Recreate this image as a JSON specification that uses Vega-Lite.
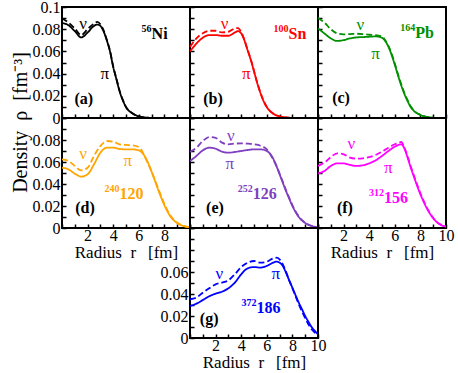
{
"$schema":"https://vega.github.io/schema/vega-lite/v6.json",
"autosize":{"type":"pad"},
"padding":{"left":9,"top":-2,"right":10,"bottom":0},
"background":"white",
"columns":3,"spacing":0,"bounds":"flush",
"datasets":{
"curves":[
{"p":"a","s":"pi","r":0,"v":0.0857},{"p":"a","s":"pi","r":0.5,"v":0.0836},{"p":"a","s":"pi","r":1,"v":0.0783},{"p":"a","s":"pi","r":1.5,"v":0.0726},{"p":"a","s":"pi","r":2,"v":0.077},{"p":"a","s":"pi","r":2.5,"v":0.083},{"p":"a","s":"pi","r":2.75,"v":0.0842},{"p":"a","s":"pi","r":3,"v":0.083},{"p":"a","s":"pi","r":3.25,"v":0.078},{"p":"a","s":"pi","r":3.5,"v":0.07},{"p":"a","s":"pi","r":3.75,"v":0.06},{"p":"a","s":"pi","r":4,"v":0.046},{"p":"a","s":"pi","r":4.25,"v":0.035},{"p":"a","s":"pi","r":4.5,"v":0.024},{"p":"a","s":"pi","r":4.75,"v":0.016},{"p":"a","s":"pi","r":5,"v":0.0098},{"p":"a","s":"pi","r":5.5,"v":0.0042},{"p":"a","s":"pi","r":6,"v":0.0015},{"p":"a","s":"pi","r":6.5,"v":0.0005},{"p":"a","s":"pi","r":7,"v":0.0001},
{"p":"a","s":"nu","r":0,"v":0.0896},{"p":"a","s":"nu","r":0.5,"v":0.086},{"p":"a","s":"nu","r":1,"v":0.0807},{"p":"a","s":"nu","r":1.5,"v":0.0747},{"p":"a","s":"nu","r":2,"v":0.08},{"p":"a","s":"nu","r":2.5,"v":0.085},{"p":"a","s":"nu","r":2.75,"v":0.0866},{"p":"a","s":"nu","r":3,"v":0.0845},{"p":"a","s":"nu","r":3.25,"v":0.079},{"p":"a","s":"nu","r":3.5,"v":0.0705},{"p":"a","s":"nu","r":3.75,"v":0.0605},{"p":"a","s":"nu","r":4,"v":0.0465},{"p":"a","s":"nu","r":4.25,"v":0.0355},{"p":"a","s":"nu","r":4.5,"v":0.0245},{"p":"a","s":"nu","r":4.75,"v":0.0163},{"p":"a","s":"nu","r":5,"v":0.01},{"p":"a","s":"nu","r":5.5,"v":0.0043},{"p":"a","s":"nu","r":6,"v":0.0015},{"p":"a","s":"nu","r":6.5,"v":0.0005},{"p":"a","s":"nu","r":7,"v":0.0001},
{"p":"b","s":"pi","r":0,"v":0.06},{"p":"b","s":"pi","r":0.5,"v":0.067},{"p":"b","s":"pi","r":1,"v":0.0723},{"p":"b","s":"pi","r":1.5,"v":0.0747},{"p":"b","s":"pi","r":2,"v":0.0747},{"p":"b","s":"pi","r":2.5,"v":0.0741},{"p":"b","s":"pi","r":3,"v":0.0741},{"p":"b","s":"pi","r":3.5,"v":0.077},{"p":"b","s":"pi","r":3.75,"v":0.0783},{"p":"b","s":"pi","r":4,"v":0.0762},{"p":"b","s":"pi","r":4.25,"v":0.07},{"p":"b","s":"pi","r":4.5,"v":0.061},{"p":"b","s":"pi","r":4.75,"v":0.0523},{"p":"b","s":"pi","r":5,"v":0.042},{"p":"b","s":"pi","r":5.25,"v":0.0315},{"p":"b","s":"pi","r":5.5,"v":0.0226},{"p":"b","s":"pi","r":5.75,"v":0.0152},{"p":"b","s":"pi","r":6,"v":0.0098},{"p":"b","s":"pi","r":6.5,"v":0.0039},{"p":"b","s":"pi","r":7,"v":0.0015},{"p":"b","s":"pi","r":7.5,"v":0.0005},{"p":"b","s":"pi","r":8,"v":0.0001},
{"p":"b","s":"nu","r":0,"v":0.064},{"p":"b","s":"nu","r":0.5,"v":0.0717},{"p":"b","s":"nu","r":1,"v":0.0764},{"p":"b","s":"nu","r":1.5,"v":0.0786},{"p":"b","s":"nu","r":2,"v":0.0786},{"p":"b","s":"nu","r":2.5,"v":0.0771},{"p":"b","s":"nu","r":3,"v":0.0777},{"p":"b","s":"nu","r":3.5,"v":0.0807},{"p":"b","s":"nu","r":3.75,"v":0.081},{"p":"b","s":"nu","r":4,"v":0.0775},{"p":"b","s":"nu","r":4.25,"v":0.0705},{"p":"b","s":"nu","r":4.5,"v":0.0615},{"p":"b","s":"nu","r":4.75,"v":0.053},{"p":"b","s":"nu","r":5,"v":0.0425},{"p":"b","s":"nu","r":5.25,"v":0.032},{"p":"b","s":"nu","r":5.5,"v":0.023},{"p":"b","s":"nu","r":5.75,"v":0.0155},{"p":"b","s":"nu","r":6,"v":0.01},{"p":"b","s":"nu","r":6.5,"v":0.004},{"p":"b","s":"nu","r":7,"v":0.0015},{"p":"b","s":"nu","r":7.5,"v":0.0005},{"p":"b","s":"nu","r":8,"v":0.0001},
{"p":"c","s":"pi","r":0,"v":0.0807},{"p":"c","s":"pi","r":0.5,"v":0.0762},{"p":"c","s":"pi","r":1,"v":0.0717},{"p":"c","s":"pi","r":1.5,"v":0.0694},{"p":"c","s":"pi","r":2,"v":0.0702},{"p":"c","s":"pi","r":2.5,"v":0.0717},{"p":"c","s":"pi","r":3,"v":0.0726},{"p":"c","s":"pi","r":3.5,"v":0.0729},{"p":"c","s":"pi","r":4,"v":0.0732},{"p":"c","s":"pi","r":4.5,"v":0.0735},{"p":"c","s":"pi","r":5,"v":0.0723},{"p":"c","s":"pi","r":5.25,"v":0.0694},{"p":"c","s":"pi","r":5.5,"v":0.0643},{"p":"c","s":"pi","r":5.75,"v":0.0569},{"p":"c","s":"pi","r":6,"v":0.048},{"p":"c","s":"pi","r":6.25,"v":0.0384},{"p":"c","s":"pi","r":6.5,"v":0.0295},{"p":"c","s":"pi","r":6.75,"v":0.0217},{"p":"c","s":"pi","r":7,"v":0.0152},{"p":"c","s":"pi","r":7.25,"v":0.0098},{"p":"c","s":"pi","r":7.5,"v":0.0063},{"p":"c","s":"pi","r":8,"v":0.0027},{"p":"c","s":"pi","r":8.5,"v":0.001},{"p":"c","s":"pi","r":9,"v":0.0003},
{"p":"c","s":"nu","r":0,"v":0.0902},{"p":"c","s":"nu","r":0.5,"v":0.086},{"p":"c","s":"nu","r":1,"v":0.08},{"p":"c","s":"nu","r":1.5,"v":0.0762},{"p":"c","s":"nu","r":2,"v":0.0753},{"p":"c","s":"nu","r":2.5,"v":0.0756},{"p":"c","s":"nu","r":3,"v":0.0759},{"p":"c","s":"nu","r":3.5,"v":0.0756},{"p":"c","s":"nu","r":4,"v":0.075},{"p":"c","s":"nu","r":4.5,"v":0.0747},{"p":"c","s":"nu","r":5,"v":0.0735},{"p":"c","s":"nu","r":5.25,"v":0.07},{"p":"c","s":"nu","r":5.5,"v":0.065},{"p":"c","s":"nu","r":5.75,"v":0.058},{"p":"c","s":"nu","r":6,"v":0.049},{"p":"c","s":"nu","r":6.25,"v":0.0395},{"p":"c","s":"nu","r":6.5,"v":0.0305},{"p":"c","s":"nu","r":6.75,"v":0.0225},{"p":"c","s":"nu","r":7,"v":0.016},{"p":"c","s":"nu","r":7.25,"v":0.0103},{"p":"c","s":"nu","r":7.5,"v":0.0066},{"p":"c","s":"nu","r":8,"v":0.0029},{"p":"c","s":"nu","r":8.5,"v":0.0011},{"p":"c","s":"nu","r":9,"v":0.0003},
{"p":"d","s":"pi","r":0,"v":0.0548},{"p":"d","s":"pi","r":0.5,"v":0.0533},{"p":"d","s":"pi","r":1,"v":0.0494},{"p":"d","s":"pi","r":1.5,"v":0.0467},{"p":"d","s":"pi","r":2,"v":0.0488},{"p":"d","s":"pi","r":2.5,"v":0.0579},{"p":"d","s":"pi","r":3,"v":0.0685},{"p":"d","s":"pi","r":3.5,"v":0.073},{"p":"d","s":"pi","r":4,"v":0.073},{"p":"d","s":"pi","r":4.5,"v":0.0718},{"p":"d","s":"pi","r":5,"v":0.0715},{"p":"d","s":"pi","r":5.5,"v":0.0715},{"p":"d","s":"pi","r":6,"v":0.0706},{"p":"d","s":"pi","r":6.25,"v":0.0685},{"p":"d","s":"pi","r":6.5,"v":0.0645},{"p":"d","s":"pi","r":6.75,"v":0.0585},{"p":"d","s":"pi","r":7,"v":0.0512},{"p":"d","s":"pi","r":7.25,"v":0.0434},{"p":"d","s":"pi","r":7.5,"v":0.0352},{"p":"d","s":"pi","r":7.75,"v":0.0276},{"p":"d","s":"pi","r":8,"v":0.0206},{"p":"d","s":"pi","r":8.25,"v":0.0148},{"p":"d","s":"pi","r":8.5,"v":0.01},{"p":"d","s":"pi","r":9,"v":0.0045},{"p":"d","s":"pi","r":9.5,"v":0.0018},{"p":"d","s":"pi","r":10,"v":0.0005},
{"p":"d","s":"nu","r":0,"v":0.0624},{"p":"d","s":"nu","r":0.5,"v":0.061},{"p":"d","s":"nu","r":1,"v":0.0564},{"p":"d","s":"nu","r":1.5,"v":0.0524},{"p":"d","s":"nu","r":2,"v":0.0548},{"p":"d","s":"nu","r":2.5,"v":0.0655},{"p":"d","s":"nu","r":3,"v":0.0745},{"p":"d","s":"nu","r":3.5,"v":0.0791},{"p":"d","s":"nu","r":4,"v":0.0785},{"p":"d","s":"nu","r":4.5,"v":0.0761},{"p":"d","s":"nu","r":5,"v":0.0755},{"p":"d","s":"nu","r":5.5,"v":0.0752},{"p":"d","s":"nu","r":6,"v":0.0736},{"p":"d","s":"nu","r":6.25,"v":0.07},{"p":"d","s":"nu","r":6.5,"v":0.064},{"p":"d","s":"nu","r":6.75,"v":0.0578},{"p":"d","s":"nu","r":7,"v":0.0515},{"p":"d","s":"nu","r":7.25,"v":0.0438},{"p":"d","s":"nu","r":7.5,"v":0.0365},{"p":"d","s":"nu","r":7.75,"v":0.029},{"p":"d","s":"nu","r":8,"v":0.0218},{"p":"d","s":"nu","r":8.25,"v":0.0158},{"p":"d","s":"nu","r":8.5,"v":0.0108},{"p":"d","s":"nu","r":9,"v":0.0049},{"p":"d","s":"nu","r":9.5,"v":0.002},{"p":"d","s":"nu","r":10,"v":0.0005},
{"p":"e","s":"pi","r":0,"v":0.0609},{"p":"e","s":"pi","r":0.5,"v":0.0655},{"p":"e","s":"pi","r":1,"v":0.0706},{"p":"e","s":"pi","r":1.5,"v":0.073},{"p":"e","s":"pi","r":2,"v":0.0721},{"p":"e","s":"pi","r":2.5,"v":0.0694},{"p":"e","s":"pi","r":3,"v":0.0685},{"p":"e","s":"pi","r":3.5,"v":0.0691},{"p":"e","s":"pi","r":4,"v":0.07},{"p":"e","s":"pi","r":4.5,"v":0.0709},{"p":"e","s":"pi","r":5,"v":0.0715},{"p":"e","s":"pi","r":5.5,"v":0.0715},{"p":"e","s":"pi","r":6,"v":0.07},{"p":"e","s":"pi","r":6.25,"v":0.0676},{"p":"e","s":"pi","r":6.5,"v":0.063},{"p":"e","s":"pi","r":6.75,"v":0.0564},{"p":"e","s":"pi","r":7,"v":0.0488},{"p":"e","s":"pi","r":7.25,"v":0.0412},{"p":"e","s":"pi","r":7.5,"v":0.0336},{"p":"e","s":"pi","r":7.75,"v":0.0267},{"p":"e","s":"pi","r":8,"v":0.02},{"p":"e","s":"pi","r":8.25,"v":0.0145},{"p":"e","s":"pi","r":8.5,"v":0.01},{"p":"e","s":"pi","r":9,"v":0.0045},{"p":"e","s":"pi","r":9.5,"v":0.0018},{"p":"e","s":"pi","r":10,"v":0.0005},
{"p":"e","s":"nu","r":0,"v":0.0694},{"p":"e","s":"nu","r":0.5,"v":0.073},{"p":"e","s":"nu","r":1,"v":0.0791},{"p":"e","s":"nu","r":1.5,"v":0.0827},{"p":"e","s":"nu","r":2,"v":0.082},{"p":"e","s":"nu","r":2.5,"v":0.0776},{"p":"e","s":"nu","r":3,"v":0.0761},{"p":"e","s":"nu","r":3.5,"v":0.0767},{"p":"e","s":"nu","r":4,"v":0.077},{"p":"e","s":"nu","r":4.5,"v":0.0767},{"p":"e","s":"nu","r":5,"v":0.0761},{"p":"e","s":"nu","r":5.5,"v":0.0748},{"p":"e","s":"nu","r":6,"v":0.0715},{"p":"e","s":"nu","r":6.25,"v":0.0676},{"p":"e","s":"nu","r":6.5,"v":0.0624},{"p":"e","s":"nu","r":6.75,"v":0.0566},{"p":"e","s":"nu","r":7,"v":0.0495},{"p":"e","s":"nu","r":7.25,"v":0.042},{"p":"e","s":"nu","r":7.5,"v":0.0345},{"p":"e","s":"nu","r":7.75,"v":0.0275},{"p":"e","s":"nu","r":8,"v":0.0208},{"p":"e","s":"nu","r":8.25,"v":0.015},{"p":"e","s":"nu","r":8.5,"v":0.0105},{"p":"e","s":"nu","r":9,"v":0.0048},{"p":"e","s":"nu","r":9.5,"v":0.002},{"p":"e","s":"nu","r":10,"v":0.0006},
{"p":"f","s":"pi","r":0,"v":0.0497},{"p":"f","s":"pi","r":0.5,"v":0.0518},{"p":"f","s":"pi","r":1,"v":0.0564},{"p":"f","s":"pi","r":1.5,"v":0.0588},{"p":"f","s":"pi","r":2,"v":0.0588},{"p":"f","s":"pi","r":2.5,"v":0.0573},{"p":"f","s":"pi","r":3,"v":0.0564},{"p":"f","s":"pi","r":3.5,"v":0.057},{"p":"f","s":"pi","r":4,"v":0.0588},{"p":"f","s":"pi","r":4.5,"v":0.0615},{"p":"f","s":"pi","r":5,"v":0.0655},{"p":"f","s":"pi","r":5.5,"v":0.07},{"p":"f","s":"pi","r":6,"v":0.0739},{"p":"f","s":"pi","r":6.5,"v":0.0761},{"p":"f","s":"pi","r":6.75,"v":0.0724},{"p":"f","s":"pi","r":7,"v":0.0639},{"p":"f","s":"pi","r":7.25,"v":0.0548},{"p":"f","s":"pi","r":7.5,"v":0.0464},{"p":"f","s":"pi","r":7.75,"v":0.0382},{"p":"f","s":"pi","r":8,"v":0.0306},{"p":"f","s":"pi","r":8.25,"v":0.024},{"p":"f","s":"pi","r":8.5,"v":0.0179},{"p":"f","s":"pi","r":8.75,"v":0.013},{"p":"f","s":"pi","r":9,"v":0.0088},{"p":"f","s":"pi","r":9.5,"v":0.0034},{"p":"f","s":"pi","r":10,"v":0.0012},
{"p":"f","s":"nu","r":0,"v":0.0564},{"p":"f","s":"nu","r":0.5,"v":0.0594},{"p":"f","s":"nu","r":1,"v":0.0645},{"p":"f","s":"nu","r":1.5,"v":0.0679},{"p":"f","s":"nu","r":2,"v":0.067},{"p":"f","s":"nu","r":2.5,"v":0.0639},{"p":"f","s":"nu","r":3,"v":0.063},{"p":"f","s":"nu","r":3.5,"v":0.0633},{"p":"f","s":"nu","r":4,"v":0.0645},{"p":"f","s":"nu","r":4.5,"v":0.0664},{"p":"f","s":"nu","r":5,"v":0.0694},{"p":"f","s":"nu","r":5.5,"v":0.073},{"p":"f","s":"nu","r":6,"v":0.0761},{"p":"f","s":"nu","r":6.5,"v":0.0782},{"p":"f","s":"nu","r":6.75,"v":0.073},{"p":"f","s":"nu","r":7,"v":0.0652},{"p":"f","s":"nu","r":7.25,"v":0.0558},{"p":"f","s":"nu","r":7.5,"v":0.0475},{"p":"f","s":"nu","r":7.75,"v":0.0393},{"p":"f","s":"nu","r":8,"v":0.0316},{"p":"f","s":"nu","r":8.25,"v":0.0248},{"p":"f","s":"nu","r":8.5,"v":0.0186},{"p":"f","s":"nu","r":8.75,"v":0.0136},{"p":"f","s":"nu","r":9,"v":0.0093},{"p":"f","s":"nu","r":9.5,"v":0.0036},{"p":"f","s":"nu","r":10,"v":0.0013},
{"p":"g","s":"pi","r":0,"v":0.0291},{"p":"g","s":"pi","r":0.5,"v":0.0312},{"p":"g","s":"pi","r":1,"v":0.0345},{"p":"g","s":"pi","r":1.5,"v":0.0379},{"p":"g","s":"pi","r":2,"v":0.0403},{"p":"g","s":"pi","r":2.5,"v":0.0421},{"p":"g","s":"pi","r":3,"v":0.0452},{"p":"g","s":"pi","r":3.5,"v":0.0503},{"p":"g","s":"pi","r":4,"v":0.0579},{"p":"g","s":"pi","r":4.5,"v":0.0633},{"p":"g","s":"pi","r":5,"v":0.0645},{"p":"g","s":"pi","r":5.5,"v":0.064},{"p":"g","s":"pi","r":6,"v":0.0655},{"p":"g","s":"pi","r":6.5,"v":0.0685},{"p":"g","s":"pi","r":6.75,"v":0.0694},{"p":"g","s":"pi","r":7,"v":0.0685},{"p":"g","s":"pi","r":7.25,"v":0.0655},{"p":"g","s":"pi","r":7.5,"v":0.0594},{"p":"g","s":"pi","r":7.75,"v":0.0524},{"p":"g","s":"pi","r":8,"v":0.0457},{"p":"g","s":"pi","r":8.25,"v":0.0388},{"p":"g","s":"pi","r":8.5,"v":0.0321},{"p":"g","s":"pi","r":8.75,"v":0.0261},{"p":"g","s":"pi","r":9,"v":0.02},{"p":"g","s":"pi","r":9.25,"v":0.0148},{"p":"g","s":"pi","r":9.5,"v":0.01},{"p":"g","s":"pi","r":9.75,"v":0.0064},{"p":"g","s":"pi","r":10,"v":0.0033},
{"p":"g","s":"nu","r":0,"v":0.0352},{"p":"g","s":"nu","r":0.5,"v":0.0367},{"p":"g","s":"nu","r":1,"v":0.0412},{"p":"g","s":"nu","r":1.5,"v":0.0452},{"p":"g","s":"nu","r":2,"v":0.0488},{"p":"g","s":"nu","r":2.5,"v":0.0503},{"p":"g","s":"nu","r":3,"v":0.0524},{"p":"g","s":"nu","r":3.5,"v":0.0579},{"p":"g","s":"nu","r":4,"v":0.0645},{"p":"g","s":"nu","r":4.5,"v":0.0685},{"p":"g","s":"nu","r":5,"v":0.07},{"p":"g","s":"nu","r":5.5,"v":0.0685},{"p":"g","s":"nu","r":6,"v":0.0694},{"p":"g","s":"nu","r":6.5,"v":0.0724},{"p":"g","s":"nu","r":6.75,"v":0.073},{"p":"g","s":"nu","r":7,"v":0.0715},{"p":"g","s":"nu","r":7.25,"v":0.067},{"p":"g","s":"nu","r":7.5,"v":0.0603},{"p":"g","s":"nu","r":7.75,"v":0.0524},{"p":"g","s":"nu","r":8,"v":0.0452},{"p":"g","s":"nu","r":8.25,"v":0.0379},{"p":"g","s":"nu","r":8.5,"v":0.0306},{"p":"g","s":"nu","r":8.75,"v":0.024},{"p":"g","s":"nu","r":9,"v":0.018},{"p":"g","s":"nu","r":9.25,"v":0.0124},{"p":"g","s":"nu","r":9.5,"v":0.0079},{"p":"g","s":"nu","r":9.75,"v":0.0048},{"p":"g","s":"nu","r":10,"v":0.0024}
],
"labels":[
{"p":"a","k":"tag","r":1.7,"v":0.017,"t":"(a)"},{"p":"a","k":"gr","r":1.65,"v":0.085,"t":"ν"},{"p":"a","k":"gr","r":3.35,"v":0.04,"t":"π"},{"p":"a","k":"sup","r":7.0,"v":0.071,"t":"56"},{"p":"a","k":"main","r":7.0,"v":0.071,"t":"Ni"},
{"p":"b","k":"tag","r":1.8,"v":0.017,"t":"(b)"},{"p":"b","k":"gr","r":2.7,"v":0.085,"t":"ν"},{"p":"b","k":"gr","r":4.4,"v":0.04,"t":"π"},{"p":"b","k":"sup","r":7.7,"v":0.071,"t":"100"},{"p":"b","k":"main","r":7.7,"v":0.071,"t":"Sn"},
{"p":"c","k":"tag","r":1.8,"v":0.018,"t":"(c)"},{"p":"c","k":"gr","r":3.3,"v":0.084,"t":"ν"},{"p":"c","k":"gr","r":4.5,"v":0.058,"t":"π"},{"p":"c","k":"sup","r":7.6,"v":0.072,"t":"164"},{"p":"c","k":"main","r":7.6,"v":0.072,"t":"Pb"},
{"p":"d","k":"tag","r":1.8,"v":0.018,"t":"(d)"},{"p":"d","k":"gr","r":1.65,"v":0.067,"t":"ν"},{"p":"d","k":"gr","r":5.15,"v":0.061,"t":"π"},{"p":"d","k":"sup","r":4.5,"v":0.026,"t":"240"},{"p":"d","k":"main","r":4.5,"v":0.026,"t":"120"},
{"p":"e","k":"tag","r":1.95,"v":0.018,"t":"(e)"},{"p":"e","k":"gr","r":3.2,"v":0.084,"t":"ν"},{"p":"e","k":"gr","r":3.1,"v":0.058,"t":"π"},{"p":"e","k":"sup","r":4.9,"v":0.026,"t":"252"},{"p":"e","k":"main","r":4.9,"v":0.026,"t":"126"},
{"p":"f","k":"tag","r":2.1,"v":0.018,"t":"(f)"},{"p":"f","k":"gr","r":2.6,"v":0.076,"t":"ν"},{"p":"f","k":"gr","r":5.5,"v":0.055,"t":"π"},{"p":"f","k":"sup","r":5.15,"v":0.023,"t":"312"},{"p":"f","k":"main","r":5.15,"v":0.023,"t":"156"},
{"p":"g","k":"tag","r":1.5,"v":0.017,"t":"(g)"},{"p":"g","k":"gr","r":2.3,"v":0.058,"t":"ν"},{"p":"g","k":"gr","r":6.7,"v":0.058,"t":"π"},{"p":"g","k":"sup","r":5.2,"v":0.023,"t":"372"},{"p":"g","k":"main","r":5.2,"v":0.023,"t":"186"}
]
},
"concat":[
{"width":128,"height":111,
 "encoding":{"x":{"field":"r","type":"quantitative","scale":{"domain":[0,10],"nice":false},"axis":{"values":[0,1,2,3,4,5,6,7,8,9,10],"labels":false,"title":null}},
  "y":{"field":"v","type":"quantitative","scale":{"domain":[0,0.1],"nice":false},"axis":{"values":[0,0.01,0.02,0.03,0.04,0.05,0.06,0.07,0.08,0.09,0.1],"labelExpr":"round(datum.value*100)%2==0?format(datum.value,'.2~f'):''","title":"Density\u2002ρ\u2002[fm⁻³]","titleX":-32,"titleY":115,"titleFontSize":20,"titleAlign":"center"}},
  "color":{"field":"p","type":"nominal","scale":{"domain":["a","b","c","d","e","f","g"],"range":["#000000","#ff0000","#009000","#ffa500","#7f3fbf","#ff00ff","#0000ff"]},"legend":null}},
 "layer":[
  {"data":{"name":"curves"},"transform":[{"filter":"datum.p=='a'"}],"mark":{"type":"line","strokeWidth":1.8,"interpolate":"monotone","clip":true},"encoding":{"strokeDash":{"field":"s","type":"nominal","scale":{"domain":["pi","nu"],"range":[[1,0],[6,3]]},"legend":null}}},
  {"data":{"name":"labels"},"transform":[{"filter":"datum.p=='a'&&datum.k=='tag'"}],"mark":{"type":"text","fontSize":16,"fontWeight":"bold"},"encoding":{"text":{"field":"t"},"color":{"value":"black"}}},
  {"data":{"name":"labels"},"transform":[{"filter":"datum.p=='a'&&datum.k=='gr'"}],"mark":{"type":"text","fontSize":17},"encoding":{"text":{"field":"t"}}},
  {"data":{"name":"labels"},"transform":[{"filter":"datum.p=='a'&&datum.k=='main'"}],"mark":{"type":"text","fontSize":16,"fontWeight":"bold","align":"left","baseline":"alphabetic"},"encoding":{"text":{"field":"t"}}},
  {"data":{"name":"labels"},"transform":[{"filter":"datum.p=='a'&&datum.k=='sup'"}],"mark":{"type":"text","fontSize":10,"fontWeight":"bold","align":"right","baseline":"alphabetic","dy":-7},"encoding":{"text":{"field":"t"}}}
 ]},
{"width":128,"height":111,
 "encoding":{"x":{"field":"r","type":"quantitative","scale":{"domain":[0,10],"nice":false},"axis":{"values":[0,1,2,3,4,5,6,7,8,9,10],"labels":false,"title":null}},
  "y":{"field":"v","type":"quantitative","scale":{"domain":[0,0.1],"nice":false},"axis":{"values":[0,0.01,0.02,0.03,0.04,0.05,0.06,0.07,0.08,0.09,0.1],"labels":false,"title":null}},
  "color":{"field":"p","type":"nominal","scale":{"domain":["a","b","c","d","e","f","g"],"range":["#000000","#ff0000","#009000","#ffa500","#7f3fbf","#ff00ff","#0000ff"]},"legend":null}},
 "layer":[
  {"data":{"name":"curves"},"transform":[{"filter":"datum.p=='b'"}],"mark":{"type":"line","strokeWidth":1.8,"interpolate":"monotone","clip":true},"encoding":{"strokeDash":{"field":"s","type":"nominal","scale":{"domain":["pi","nu"],"range":[[1,0],[6,3]]},"legend":null}}},
  {"data":{"name":"labels"},"transform":[{"filter":"datum.p=='b'&&datum.k=='tag'"}],"mark":{"type":"text","fontSize":16,"fontWeight":"bold"},"encoding":{"text":{"field":"t"},"color":{"value":"black"}}},
  {"data":{"name":"labels"},"transform":[{"filter":"datum.p=='b'&&datum.k=='gr'"}],"mark":{"type":"text","fontSize":17},"encoding":{"text":{"field":"t"}}},
  {"data":{"name":"labels"},"transform":[{"filter":"datum.p=='b'&&datum.k=='main'"}],"mark":{"type":"text","fontSize":16,"fontWeight":"bold","align":"left","baseline":"alphabetic"},"encoding":{"text":{"field":"t"}}},
  {"data":{"name":"labels"},"transform":[{"filter":"datum.p=='b'&&datum.k=='sup'"}],"mark":{"type":"text","fontSize":10,"fontWeight":"bold","align":"right","baseline":"alphabetic","dy":-7},"encoding":{"text":{"field":"t"}}}
 ]},
{"width":128,"height":111,
 "encoding":{"x":{"field":"r","type":"quantitative","scale":{"domain":[0,10],"nice":false},"axis":{"values":[0,1,2,3,4,5,6,7,8,9,10],"labels":false,"title":null}},
  "y":{"field":"v","type":"quantitative","scale":{"domain":[0,0.1],"nice":false},"axis":{"values":[0,0.01,0.02,0.03,0.04,0.05,0.06,0.07,0.08,0.09,0.1],"labels":false,"title":null}},
  "color":{"field":"p","type":"nominal","scale":{"domain":["a","b","c","d","e","f","g"],"range":["#000000","#ff0000","#009000","#ffa500","#7f3fbf","#ff00ff","#0000ff"]},"legend":null}},
 "layer":[
  {"data":{"name":"curves"},"transform":[{"filter":"datum.p=='c'"}],"mark":{"type":"line","strokeWidth":1.8,"interpolate":"monotone","clip":true},"encoding":{"strokeDash":{"field":"s","type":"nominal","scale":{"domain":["pi","nu"],"range":[[1,0],[6,3]]},"legend":null}}},
  {"data":{"name":"labels"},"transform":[{"filter":"datum.p=='c'&&datum.k=='tag'"}],"mark":{"type":"text","fontSize":16,"fontWeight":"bold"},"encoding":{"text":{"field":"t"},"color":{"value":"black"}}},
  {"data":{"name":"labels"},"transform":[{"filter":"datum.p=='c'&&datum.k=='gr'"}],"mark":{"type":"text","fontSize":17},"encoding":{"text":{"field":"t"}}},
  {"data":{"name":"labels"},"transform":[{"filter":"datum.p=='c'&&datum.k=='main'"}],"mark":{"type":"text","fontSize":16,"fontWeight":"bold","align":"left","baseline":"alphabetic"},"encoding":{"text":{"field":"t"}}},
  {"data":{"name":"labels"},"transform":[{"filter":"datum.p=='c'&&datum.k=='sup'"}],"mark":{"type":"text","fontSize":10,"fontWeight":"bold","align":"right","baseline":"alphabetic","dy":-7},"encoding":{"text":{"field":"t"}}}
 ]},
{"width":128,"height":110,
 "encoding":{"x":{"field":"r","type":"quantitative","scale":{"domain":[0,10],"nice":false},"axis":{"values":[0,1,2,3,4,5,6,7,8,9,10],"labelExpr":"datum.value%2==0&&datum.value>0&&datum.value<10?datum.label:''","title":"Radius\u2002r\u2002\u2009[fm]","labelPadding":3}},
  "y":{"field":"v","type":"quantitative","scale":{"domain":[0,0.1],"nice":false},"axis":{"values":[0,0.01,0.02,0.03,0.04,0.05,0.06,0.07,0.08,0.09,0.1],"labelExpr":"round(datum.value*100)%2==0&&datum.value<0.09?format(datum.value,'.2~f'):''","title":null}},
  "color":{"field":"p","type":"nominal","scale":{"domain":["a","b","c","d","e","f","g"],"range":["#000000","#ff0000","#009000","#ffa500","#7f3fbf","#ff00ff","#0000ff"]},"legend":null}},
 "layer":[
  {"data":{"name":"curves"},"transform":[{"filter":"datum.p=='d'"}],"mark":{"type":"line","strokeWidth":1.8,"interpolate":"monotone","clip":true},"encoding":{"strokeDash":{"field":"s","type":"nominal","scale":{"domain":["pi","nu"],"range":[[1,0],[6,3]]},"legend":null}}},
  {"data":{"name":"labels"},"transform":[{"filter":"datum.p=='d'&&datum.k=='tag'"}],"mark":{"type":"text","fontSize":16,"fontWeight":"bold"},"encoding":{"text":{"field":"t"},"color":{"value":"black"}}},
  {"data":{"name":"labels"},"transform":[{"filter":"datum.p=='d'&&datum.k=='gr'"}],"mark":{"type":"text","fontSize":17},"encoding":{"text":{"field":"t"}}},
  {"data":{"name":"labels"},"transform":[{"filter":"datum.p=='d'&&datum.k=='main'"}],"mark":{"type":"text","fontSize":16,"fontWeight":"bold","align":"left","baseline":"alphabetic"},"encoding":{"text":{"field":"t"}}},
  {"data":{"name":"labels"},"transform":[{"filter":"datum.p=='d'&&datum.k=='sup'"}],"mark":{"type":"text","fontSize":10,"fontWeight":"bold","align":"right","baseline":"alphabetic","dy":-7},"encoding":{"text":{"field":"t"}}}
 ]},
{"width":128,"height":110,
 "encoding":{"x":{"field":"r","type":"quantitative","scale":{"domain":[0,10],"nice":false},"axis":{"values":[0,1,2,3,4,5,6,7,8,9,10],"labels":false,"title":null}},
  "y":{"field":"v","type":"quantitative","scale":{"domain":[0,0.1],"nice":false},"axis":{"values":[0,0.01,0.02,0.03,0.04,0.05,0.06,0.07,0.08,0.09,0.1],"labels":false,"title":null}},
  "color":{"field":"p","type":"nominal","scale":{"domain":["a","b","c","d","e","f","g"],"range":["#000000","#ff0000","#009000","#ffa500","#7f3fbf","#ff00ff","#0000ff"]},"legend":null}},
 "layer":[
  {"data":{"name":"curves"},"transform":[{"filter":"datum.p=='e'"}],"mark":{"type":"line","strokeWidth":1.8,"interpolate":"monotone","clip":true},"encoding":{"strokeDash":{"field":"s","type":"nominal","scale":{"domain":["pi","nu"],"range":[[1,0],[6,3]]},"legend":null}}},
  {"data":{"name":"labels"},"transform":[{"filter":"datum.p=='e'&&datum.k=='tag'"}],"mark":{"type":"text","fontSize":16,"fontWeight":"bold"},"encoding":{"text":{"field":"t"},"color":{"value":"black"}}},
  {"data":{"name":"labels"},"transform":[{"filter":"datum.p=='e'&&datum.k=='gr'"}],"mark":{"type":"text","fontSize":17},"encoding":{"text":{"field":"t"}}},
  {"data":{"name":"labels"},"transform":[{"filter":"datum.p=='e'&&datum.k=='main'"}],"mark":{"type":"text","fontSize":16,"fontWeight":"bold","align":"left","baseline":"alphabetic"},"encoding":{"text":{"field":"t"}}},
  {"data":{"name":"labels"},"transform":[{"filter":"datum.p=='e'&&datum.k=='sup'"}],"mark":{"type":"text","fontSize":10,"fontWeight":"bold","align":"right","baseline":"alphabetic","dy":-7},"encoding":{"text":{"field":"t"}}}
 ]},
{"width":128,"height":110,
 "encoding":{"x":{"field":"r","type":"quantitative","scale":{"domain":[0,10],"nice":false},"axis":{"values":[0,1,2,3,4,5,6,7,8,9,10],"labelExpr":"datum.value%2==0&&datum.value>0?datum.label:''","title":"Radius\u2002r\u2002\u2009[fm]","labelPadding":3}},
  "y":{"field":"v","type":"quantitative","scale":{"domain":[0,0.1],"nice":false},"axis":{"values":[0,0.01,0.02,0.03,0.04,0.05,0.06,0.07,0.08,0.09,0.1],"labels":false,"title":null}},
  "color":{"field":"p","type":"nominal","scale":{"domain":["a","b","c","d","e","f","g"],"range":["#000000","#ff0000","#009000","#ffa500","#7f3fbf","#ff00ff","#0000ff"]},"legend":null}},
 "layer":[
  {"data":{"name":"curves"},"transform":[{"filter":"datum.p=='f'"}],"mark":{"type":"line","strokeWidth":1.8,"interpolate":"monotone","clip":true},"encoding":{"strokeDash":{"field":"s","type":"nominal","scale":{"domain":["pi","nu"],"range":[[1,0],[6,3]]},"legend":null}}},
  {"data":{"name":"labels"},"transform":[{"filter":"datum.p=='f'&&datum.k=='tag'"}],"mark":{"type":"text","fontSize":16,"fontWeight":"bold"},"encoding":{"text":{"field":"t"},"color":{"value":"black"}}},
  {"data":{"name":"labels"},"transform":[{"filter":"datum.p=='f'&&datum.k=='gr'"}],"mark":{"type":"text","fontSize":17},"encoding":{"text":{"field":"t"}}},
  {"data":{"name":"labels"},"transform":[{"filter":"datum.p=='f'&&datum.k=='main'"}],"mark":{"type":"text","fontSize":16,"fontWeight":"bold","align":"left","baseline":"alphabetic"},"encoding":{"text":{"field":"t"}}},
  {"data":{"name":"labels"},"transform":[{"filter":"datum.p=='f'&&datum.k=='sup'"}],"mark":{"type":"text","fontSize":10,"fontWeight":"bold","align":"right","baseline":"alphabetic","dy":-7},"encoding":{"text":{"field":"t"}}}
 ]},
{"width":128,"height":110,"data":{"values":[{"z":0}]},"mark":{"type":"point","opacity":0},"view":{"stroke":null}},
{"width":128,"height":110,
 "encoding":{"x":{"field":"r","type":"quantitative","scale":{"domain":[0,10],"nice":false},"axis":{"values":[0,1,2,3,4,5,6,7,8,9,10],"labelExpr":"datum.value%2==0&&datum.value>0?datum.label:''","title":"Radius\u2002r\u2002\u2009[fm]","labelPadding":3}},
  "y":{"field":"v","type":"quantitative","scale":{"domain":[0,0.1],"nice":false},"axis":{"values":[0,0.01,0.02,0.03,0.04,0.05,0.06,0.07,0.08,0.09,0.1],"labelExpr":"round(datum.value*100)%2==0&&datum.value<0.07?format(datum.value,'.2~f'):''","title":null}},
  "color":{"field":"p","type":"nominal","scale":{"domain":["a","b","c","d","e","f","g"],"range":["#000000","#ff0000","#009000","#ffa500","#7f3fbf","#ff00ff","#0000ff"]},"legend":null}},
 "layer":[
  {"data":{"name":"curves"},"transform":[{"filter":"datum.p=='g'"}],"mark":{"type":"line","strokeWidth":1.8,"interpolate":"monotone","clip":true},"encoding":{"strokeDash":{"field":"s","type":"nominal","scale":{"domain":["pi","nu"],"range":[[1,0],[6,3]]},"legend":null}}},
  {"data":{"name":"labels"},"transform":[{"filter":"datum.p=='g'&&datum.k=='tag'"}],"mark":{"type":"text","fontSize":16,"fontWeight":"bold"},"encoding":{"text":{"field":"t"},"color":{"value":"black"}}},
  {"data":{"name":"labels"},"transform":[{"filter":"datum.p=='g'&&datum.k=='gr'"}],"mark":{"type":"text","fontSize":17},"encoding":{"text":{"field":"t"}}},
  {"data":{"name":"labels"},"transform":[{"filter":"datum.p=='g'&&datum.k=='main'"}],"mark":{"type":"text","fontSize":16,"fontWeight":"bold","align":"left","baseline":"alphabetic"},"encoding":{"text":{"field":"t"}}},
  {"data":{"name":"labels"},"transform":[{"filter":"datum.p=='g'&&datum.k=='sup'"}],"mark":{"type":"text","fontSize":10,"fontWeight":"bold","align":"right","baseline":"alphabetic","dy":-7},"encoding":{"text":{"field":"t"}}}
 ]}
],
"config":{
 "font":"Times New Roman, Liberation Serif, serif",
 "view":{"stroke":"black","strokeWidth":2},
 "text":{"font":"Times New Roman, Liberation Serif, serif"},
 "axis":{"domain":false,"grid":false,"ticks":true,"tickColor":"black","tickWidth":1.5,"tickSize":-4,"labelPadding":6,"labelFont":"Times New Roman, Liberation Serif, serif","labelFontSize":16,"labelColor":"black","labelOverlap":false,"labelFlush":false,"labelBound":false,"titleFont":"Times New Roman, Liberation Serif, serif","titleFontSize":17,"titleFontWeight":"normal","titleColor":"black","titlePadding":1}
}
}
